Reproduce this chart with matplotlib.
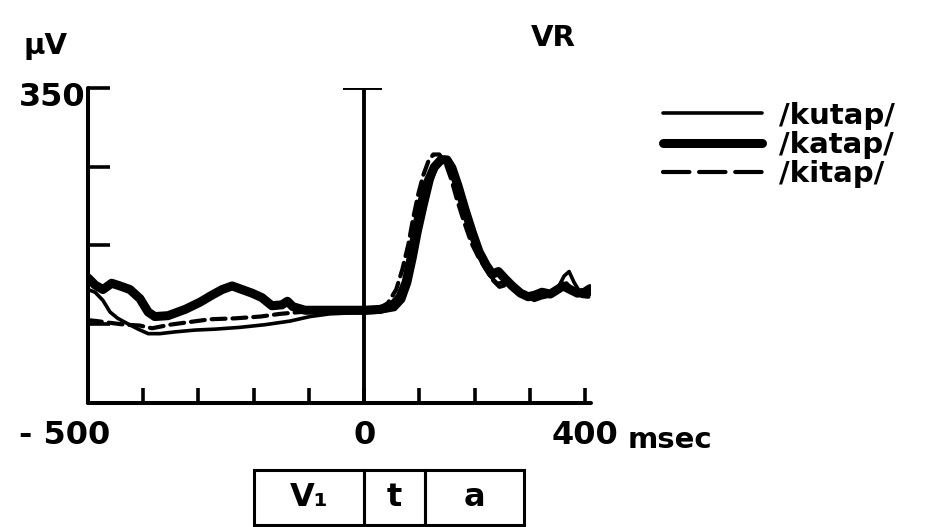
import matplotlib
matplotlib.use("Agg")
import matplotlib.pyplot as plt
from matplotlib.lines import Line2D
from matplotlib.patches import Rectangle
from matplotlib.transforms import blended_transform_factory, ScaledTranslation

# averaged responses, time in msec, amplitude in microvolts
kutap_t = [-500, -487, -473, -460, -446, -428, -409, -391, -370, -342, -306, -270,
           -225, -179, -134, -98, -62, -25, 0, 29, 56, 71, 82, 92, 101, 112, 123,
           134, 145, 156, 167, 178, 190, 203, 216, 228, 241, 254, 264, 279, 293,
           308, 322, 337, 351, 362, 371, 380, 391, 402, 409]
kutap_v = [126, 123, 114, 101, 94, 88, 82, 77, 77, 79, 81, 82,
           84, 87, 91, 96, 99, 100, 100, 101, 104, 114, 133, 161, 190, 220, 248,
           267, 273, 268, 250, 226, 198, 173, 157, 141, 133, 134, 130, 123, 118,
           114, 117, 119, 128, 141, 146, 134, 123, 119, 121]

katap_t = [-500, -487, -473, -457, -442, -424, -406, -391, -379, -355, -324, -297,
           -275, -257, -239, -221, -203, -185, -167, -149, -139, -129, -107, -71,
           -34, 0, 29, 51, 65, 76, 85, 94, 103, 114, 127, 139, 150, 159, 170, 183,
           196, 208, 221, 232, 243, 255, 268, 283, 297, 310, 322, 337, 350, 360,
           373, 386, 399, 409]
katap_v = [139, 131, 126, 133, 130, 126, 116, 101, 96, 97, 104, 112,
           120, 126, 130, 126, 122, 117, 108, 109, 113, 107, 103, 103,
           103, 103, 104, 108, 118, 134, 161, 192, 220, 244, 262, 270, 270, 261,
           241, 214, 189, 168, 153, 143, 146, 138, 130, 122, 118, 120, 123, 121,
           126, 130, 126, 122, 123, 127]

kitap_t = [-500, -484, -460, -433, -406, -384, -351, -315, -279, -234, -188, -152,
           -116, -80, -34, 0, 25, 43, 58, 69, 80, 89, 98, 107, 116, 125, 136, 147,
           158, 168, 181, 194, 207, 219, 232, 245, 257, 270, 283, 297, 312, 326,
           341, 355, 366, 377, 391, 406]
kitap_v = [92, 91, 89, 87, 86, 83, 87, 90, 93, 94, 96, 99,
           101, 102, 102, 102, 104, 111, 126, 148, 176, 206, 232, 253, 268, 276,
           276, 267, 248, 226, 201, 178, 162, 150, 137, 129, 131, 127, 120, 117,
           117, 119, 122, 129, 133, 126, 119, 118]

words = ["/kutap/", "/katap/", "/kitap/"]

# stimulus segments under the time axis
seg_edges = [-200, 0, 110, 290]
seg_labels = ["V\u2081", "t", "a"]

x_ticks = [-500, -400, -300, -200, -100, 0, 100, 200, 300, 400]
x_ticklabels = ["- 500", "", "", "", "", "0", "", "", "", "400"]
y_ticks = [87.5, 175, 262.5, 350]
y_ticklabels = ["", "", "", "350"]

plt.rcParams["font.family"] = "DejaVu Sans"
plt.rcParams["font.weight"] = "bold"
plt.rcParams["lines.scale_dashes"] = False

fig = plt.figure(figsize=(9.52, 5.27), dpi=100)
ax = fig.add_axes([0.0924, 0.2353, 0.528, 0.598])

thin = dict(color="black", linewidth=2.6, solid_capstyle="round", solid_joinstyle="round")
thick = dict(color="black", linewidth=6.5, solid_capstyle="round", solid_joinstyle="round")
dash = dict(color="black", linewidth=3.0, dashes=(10, 5), dash_capstyle="round")

ax.plot(kitap_t, kitap_v, **dash)
ax.plot(kutap_t, kutap_v, **thin)
ax.plot(katap_t, katap_v, **thick)

# stimulus onset marker
ax.vlines(0, 0, 350, color="black", linewidth=2.8)
ax.hlines(350, -38, 32, color="black", linewidth=2.8)

ax.set_xlim(-500, 410)
ax.set_ylim(0, 350)
for side in ["top", "right"]:
    ax.spines[side].set_visible(False)
for side in ["left", "bottom"]:
    ax.spines[side].set_linewidth(2.9)
    ax.spines[side].set_capstyle("round")

ax.set_xticks(x_ticks)
ax.set_xticklabels(x_ticklabels)
ax.set_yticks(y_ticks)
ax.set_yticklabels(y_ticklabels)
ax.tick_params(axis="x", direction="in", length=11, width=2.6, pad=12, labelsize=23)
ax.tick_params(axis="y", direction="in", length=16, width=2.6, pad=2, labelsize=23)
lbl = ax.get_xticklabels()[0]
lbl.set_transform(lbl.get_transform() + ScaledTranslation(-0.23, 0, fig.dpi_scale_trans))
lbl = ax.get_yticklabels()[-1]
lbl.set_transform(lbl.get_transform() + ScaledTranslation(0, -0.06, fig.dpi_scale_trans))

fig.text(628 / 952, 1 - 440 / 527, "msec", fontsize=21, ha="left", va="center")
fig.text(45 / 952, 1 - 46 / 527, "\u03bcV", fontsize=21, ha="center", va="center")
fig.text(553 / 952, 1 - 38 / 527, "VR", fontsize=21, ha="center", va="center")

# legend, dashed key drawn with longer dashes
key_dash = dict(dash, dashes=(19, 7))
handles = [Line2D([], [], **thin), Line2D([], [], **thick), Line2D([], [], **key_dash)]
ax.legend(handles, words, loc="upper left", bbox_to_anchor=(648 / 952, 1 - 87 / 527),
          bbox_transform=fig.transFigure, frameon=False, fontsize=21,
          handlelength=3.4, handletextpad=0.6, labelspacing=0.05, borderpad=0)

# segment boxes
trans = blended_transform_factory(ax.transData, fig.transFigure)
box_y0, box_y1 = 1 - 525 / 527, 1 - 470 / 527
for i, label in enumerate(seg_labels):
    x0, x1 = seg_edges[i], seg_edges[i + 1]
    ax.add_patch(Rectangle((x0, box_y0), x1 - x0, box_y1 - box_y0, transform=trans,
                           fill=False, edgecolor="black", linewidth=2.2, clip_on=False))
    ax.text((x0 + x1) / 2, (box_y0 + box_y1) / 2, label, transform=trans,
            fontsize=23, ha="center", va="center")

fig.savefig("out.png", dpi=100)
